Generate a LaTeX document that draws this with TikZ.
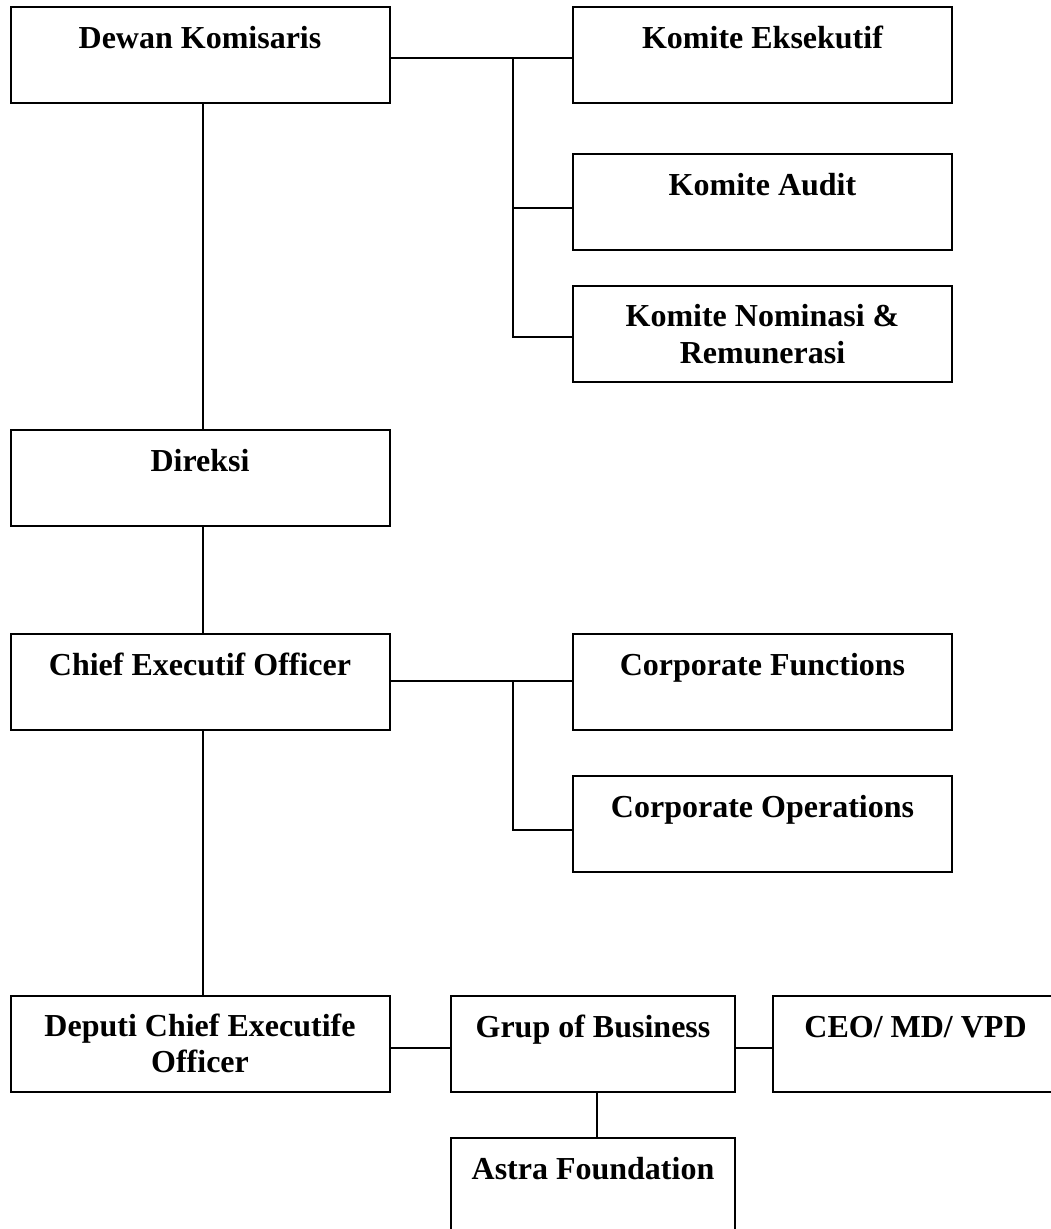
\documentclass[tikz,border=0pt]{standalone}
\usepackage{fontspec}
\setmainfont{Liberation Serif}
\begin{document}
\begin{tikzpicture}[x=1pt,y=-1pt,
  orgbox/.style={draw, line width=2pt, inner sep=0pt, outer sep=0pt, anchor=north west, minimum height=96pt},
  wide/.style={minimum width=379pt},
  mid/.style={minimum width=284pt},
  lbl/.style={font=\fontsize{32pt}{36.5pt}\selectfont\bfseries, anchor=base, inner sep=0pt, align=center},
  conn/.style={line width=1.8pt}]
\useasboundingbox (0,0) rectangle (1051,1229);
\clip (0,0) rectangle (1051,1229);
% boxes
\node[orgbox,wide] (dk) at (10.5,7) {};
\node[orgbox,wide] (ke) at (573,7) {};
\node[orgbox,wide] (ka) at (573,154) {};
\node[orgbox,wide] (kn) at (573,286) {};
\node[orgbox,wide] (dir) at (10.5,430) {};
\node[orgbox,wide] (ceo) at (10.5,634) {};
\node[orgbox,wide] (cf) at (573,634) {};
\node[orgbox,wide] (co) at (573,776) {};
\node[orgbox,wide] (dep) at (10.5,996) {};
\node[orgbox,mid] (gb) at (451,996) {};
\node[orgbox,minimum width=285pt] (cmv) at (773,996) {};
\node[orgbox,mid] (af) at (451,1138) {};
% labels (base anchor: last line of a two-line label)
\node[lbl] (dk-t) at ([yshift=-41pt]dk.north) {Dewan Komisaris};
\node[lbl] (ke-t) at ([yshift=-41pt]ke.north) {Komite Eksekutif};
\node[lbl] (ka-t) at ([yshift=-41pt]ka.north) {Komite Audit};
\node[lbl] (kn-t) at ([yshift=-77pt]kn.north) {Komite Nominasi \&\\Remunerasi};
\node[lbl] (dir-t) at ([yshift=-41pt]dir.north) {Direksi};
\node[lbl] (ceo-t) at ([yshift=-41pt]ceo.north) {Chief Executif Officer};
\node[lbl] (cf-t) at ([yshift=-41pt]cf.north) {Corporate Functions};
\node[lbl] (co-t) at ([yshift=-41pt]co.north) {Corporate Operations};
\node[lbl] (dep-t) at ([yshift=-76.5pt]dep.north) {Deputi Chief Executife\\Officer};
\node[lbl] (gb-t) at ([yshift=-41pt]gb.north) {Grup of Business};
\node[lbl] (cmv-t) at ([yshift=-41pt]cmv.north) {CEO/ MD/ VPD};
\node[lbl] (af-t) at ([yshift=-41pt]af.north) {Astra Foundation};
% connectors
\coordinate (j1) at (513,58);
\coordinate (j2) at (513,681);
\draw[conn] ([yshift=-3pt]dk.east) -- ([yshift=-3pt]ke.west);
\draw[conn] (j1) |- ([yshift=-6pt]ka.west);
\draw[conn] (j1) |- ([yshift=-3pt]kn.west);
\draw[conn] ([xshift=3pt]dk.south) -- ([xshift=3pt]dir.north);
\draw[conn] ([xshift=3pt]dir.south) -- ([xshift=3pt]ceo.north);
\draw[conn] ([yshift=1pt]ceo.east) -- ([yshift=1pt]cf.west);
\draw[conn] (j2) |- ([yshift=-6pt]co.west);
\draw[conn] ([xshift=3pt]ceo.south) -- ([xshift=3pt]dep.north);
\draw[conn] ([yshift=-4pt]dep.east) -- ([yshift=-4pt]gb.west);
\draw[conn] ([yshift=-4pt]gb.east) -- ([yshift=-4pt]cmv.west);
\draw[conn] ([xshift=4pt]gb.south) -- ([xshift=4pt]af.north);
\end{tikzpicture}
\end{document}
